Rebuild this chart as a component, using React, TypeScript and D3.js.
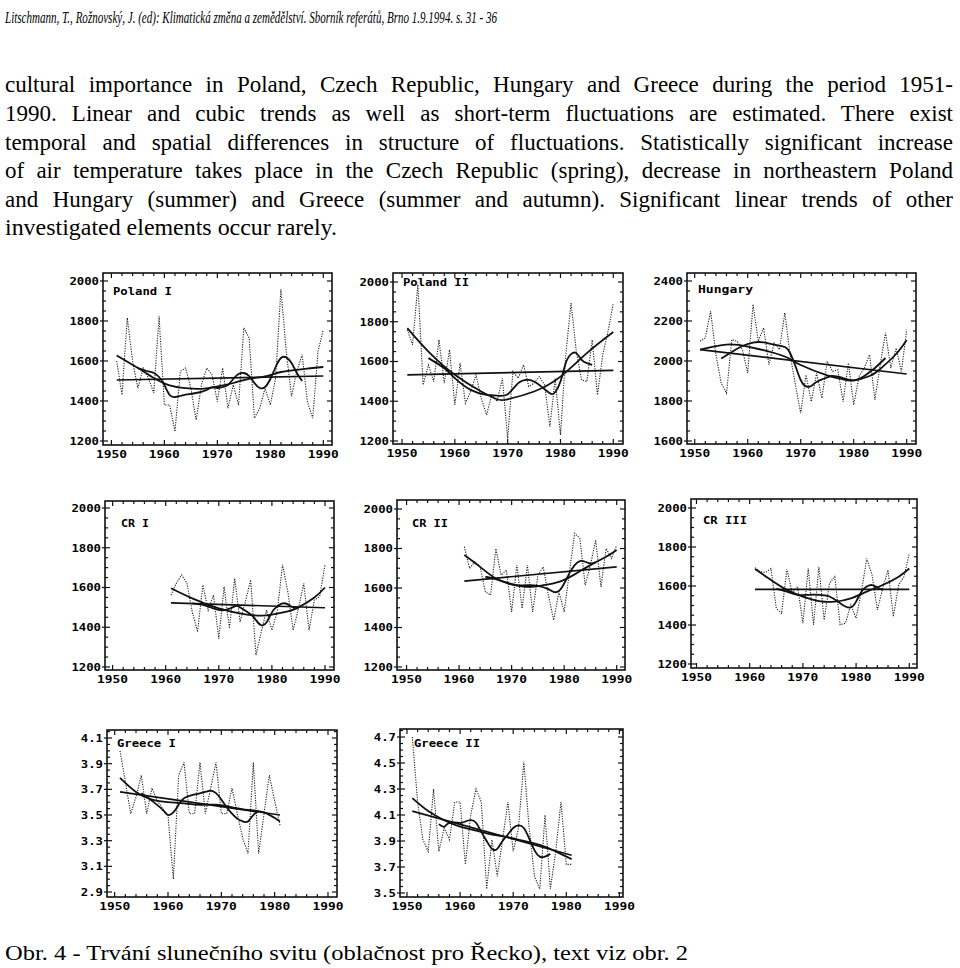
import React from 'react';
import * as d3 from 'd3';

// ---------------- text ----------------
const headerText =
  'Litschmann, T., Rožnovský, J. (ed): Klimatická změna a zemědělství. Sborník referátů, Brno 1.9.1994. s. 31 - 36';
const bodyLines = [
  'cultural importance in Poland, Czech Republic, Hungary and Greece during the period 1951-',
  '1990. Linear and cubic trends as well as short-term fluctuations are estimated. There exist',
  'temporal and spatial differences in structure of fluctuations. Statistically significant increase',
  'of air temperature takes place in the Czech Republic (spring), decrease in northeastern Poland',
  'and Hungary (summer) and Greece (summer and autumn). Significant linear trends of other',
  'investigated elements occur rarely.',
];
const captionText = 'Obr. 4 - Trvání slunečního svitu (oblačnost pro Řecko), text viz obr. 2';

// ---------------- tick labels ----------------
const xTickYears = [1950, 1960, 1970, 1980, 1990];
const ticksPoland = [1200, 1400, 1600, 1800, 2000];
const ticksHungary = [1600, 1800, 2000, 2200, 2400];
const ticksGreeceI = [2.9, 3.1, 3.3, 3.5, 3.7, 3.9, 4.1];
const ticksGreeceII = [3.5, 3.7, 3.9, 4.1, 4.3, 4.5, 4.7];

// ---------------- data: Poland I (1951-1990) ----------------
const polandIValues = [1600, 1431, 1816, 1600, 1464, 1565, 1515, 1440, 1824, 1380, 1380, 1247, 1548, 1565, 1464, 1305, 1481, 1565, 1531, 1397, 1565, 1364, 1481, 1380, 1766, 1715, 1314, 1364, 1464, 1380, 1515, 1958, 1648, 1423, 1548, 1632, 1397, 1314, 1648, 1757];
const polandILinear = [[1951, 1505], [1990, 1525]];
const polandICubic = [[1951, 1628], [1955, 1565], [1958, 1515], [1961, 1478], [1964, 1464], [1967, 1461], [1970, 1473], [1973, 1490], [1976, 1511], [1979, 1523], [1982, 1545], [1985, 1556], [1988, 1565], [1990, 1570]];
const polandISmooth = [[1955, 1565], [1957, 1548], [1958, 1540], [1959, 1520], [1960, 1480], [1961, 1430], [1962, 1420], [1963, 1425], [1964, 1432], [1966, 1440], [1968, 1455], [1969, 1468], [1970, 1465], [1971, 1470], [1972, 1480], [1973, 1510], [1974, 1535], [1975, 1540], [1976, 1525], [1977, 1490], [1978, 1465], [1979, 1470], [1980, 1510], [1981, 1570], [1982, 1615], [1983, 1618], [1984, 1590], [1985, 1540], [1986, 1500]];

// ---------------- data: Poland II (1951-1990) ----------------
const polandIIValues = [1760, 1684, 1987, 1482, 1583, 1499, 1709, 1491, 1659, 1381, 1592, 1390, 1449, 1533, 1415, 1331, 1432, 1398, 1516, 1213, 1550, 1516, 1583, 1474, 1491, 1524, 1482, 1272, 1516, 1230, 1634, 1894, 1650, 1507, 1499, 1709, 1432, 1634, 1751, 1894];
const polandIILinear = [[1951, 1533], [1990, 1555]];
const polandIICubic = [[1951, 1768], [1955, 1650], [1960, 1533], [1965, 1449], [1968, 1410], [1970, 1410], [1975, 1449], [1980, 1524], [1985, 1642], [1990, 1748]];
const polandIISmooth = [[1955, 1617], [1958, 1566], [1960, 1516], [1963, 1457], [1966, 1432], [1968, 1428], [1970, 1435], [1972, 1491], [1974, 1507], [1976, 1482], [1978, 1440], [1979, 1445], [1980, 1499], [1981, 1592], [1982, 1637], [1983, 1642], [1984, 1608], [1985, 1592], [1986, 1583]];

// ---------------- data: Hungary (1951-1990) ----------------
const hungaryValues = [2099, 2115, 2249, 2032, 1889, 1839, 2107, 2099, 2057, 1940, 2283, 2099, 2166, 1982, 2090, 2057, 2241, 2032, 1881, 1739, 1931, 1797, 1940, 1814, 1998, 1948, 1956, 1797, 1990, 1781, 1923, 1965, 2032, 1806, 1982, 2141, 1965, 2065, 1948, 2157];
const hungaryLinear = [[1951, 2057], [1990, 1935]];
const hungaryCubic = [[1951, 2057], [1956, 2082], [1960, 2072], [1965, 2040], [1968, 2010], [1970, 1980], [1975, 1928], [1978, 1908], [1980, 1903], [1983, 1925], [1985, 1960], [1988, 2035], [1990, 2105]];
const hungarySmooth = [[1955, 2012], [1957, 2045], [1959, 2075], [1961, 2092], [1962, 2095], [1963, 2093], [1965, 2082], [1967, 2070], [1968, 2040], [1969, 1975], [1970, 1905], [1971, 1873], [1972, 1875], [1973, 1895], [1975, 1918], [1976, 1925], [1977, 1922], [1978, 1915], [1980, 1903], [1982, 1925], [1984, 1965], [1986, 2015]];

// ---------------- data: CR I (1961-1990) ----------------
const crIValues = [1562, 1621, 1663, 1621, 1478, 1377, 1613, 1486, 1562, 1343, 1604, 1394, 1646, 1427, 1528, 1638, 1259, 1377, 1486, 1385, 1478, 1714, 1579, 1385, 1495, 1621, 1385, 1537, 1554, 1714];
const crILinear = [[1961, 1523], [1990, 1498]];
const crICubic = [[1961, 1596], [1965, 1545], [1970, 1495], [1975, 1465], [1978, 1458], [1980, 1463], [1983, 1480], [1985, 1500], [1988, 1550], [1990, 1600]];
const crISmooth = [[1965, 1520], [1967, 1512], [1969, 1495], [1971, 1486], [1973, 1505], [1974, 1500], [1976, 1465], [1977, 1436], [1978, 1410], [1979, 1425], [1980, 1475], [1981, 1505], [1982, 1520], [1983, 1515], [1984, 1500], [1985, 1495]];

// ---------------- data: CR II (1961-1990) ----------------
const crIIValues = [1809, 1699, 1733, 1707, 1581, 1564, 1800, 1665, 1691, 1479, 1716, 1496, 1716, 1479, 1665, 1707, 1564, 1437, 1581, 1479, 1682, 1877, 1851, 1614, 1716, 1843, 1606, 1800, 1750, 1817];
const crIILinear = [[1961, 1635], [1990, 1707]];
const crIICubic = [[1961, 1767], [1964, 1707], [1967, 1648], [1970, 1618], [1973, 1606], [1976, 1614], [1979, 1631], [1982, 1669], [1985, 1716], [1988, 1758], [1990, 1792]];
const crIISmooth = [[1965, 1657], [1967, 1645], [1969, 1628], [1971, 1614], [1973, 1614], [1975, 1611], [1977, 1594], [1978, 1580], [1979, 1585], [1980, 1623], [1981, 1674], [1982, 1716], [1983, 1736], [1984, 1733], [1985, 1724], [1986, 1730]];

// ---------------- data: CR III (1961-1990) ----------------
const crIIIValues = [1694, 1673, 1670, 1690, 1486, 1460, 1687, 1563, 1597, 1409, 1690, 1401, 1699, 1426, 1614, 1648, 1401, 1409, 1503, 1435, 1571, 1741, 1656, 1477, 1588, 1682, 1443, 1605, 1648, 1767];
const crIIILinear = [[1961, 1583], [1990, 1583]];
const crIIICubic = [[1961, 1687], [1964, 1631], [1967, 1580], [1970, 1546], [1973, 1523], [1976, 1520], [1979, 1537], [1982, 1571], [1985, 1605], [1988, 1648], [1990, 1690]];
const crIIISmooth = [[1965, 1585], [1967, 1571], [1969, 1554], [1971, 1555], [1973, 1555], [1975, 1546], [1977, 1512], [1978, 1495], [1979, 1490], [1980, 1520], [1981, 1571], [1982, 1597], [1983, 1605], [1984, 1592], [1985, 1580]];

// ---------------- data: Greece I (1951-1981) ----------------
const greeceIValues = [4.0, 3.76, 3.51, 3.64, 3.81, 3.51, 3.71, 3.61, 3.55, 3.5, 3.0, 3.81, 3.91, 3.51, 3.51, 3.91, 3.51, 3.71, 3.91, 3.51, 3.51, 3.71, 3.51, 3.32, 3.2, 3.91, 3.2, 3.51, 3.81, 3.61, 3.42];
const greeceILinear = [[1951, 3.68], [1981, 3.5]];
const greeceICubic = [[1951, 3.79], [1954, 3.68], [1957, 3.62], [1960, 3.6], [1963, 3.59], [1966, 3.58], [1969, 3.58], [1972, 3.56], [1975, 3.54], [1978, 3.52], [1981, 3.45]];
const greeceISmooth = [[1955, 3.67], [1957, 3.61], [1959, 3.54], [1960, 3.5], [1961, 3.52], [1962, 3.58], [1963, 3.63], [1965, 3.66], [1967, 3.68], [1968, 3.69], [1969, 3.67], [1970, 3.62], [1971, 3.56], [1972, 3.51], [1973, 3.47], [1974, 3.45], [1975, 3.45], [1976, 3.5], [1977, 3.53]];

// ---------------- data: Greece II (1951-1981) ----------------
const greeceIIValues = [4.7, 4.2, 3.91, 3.82, 4.3, 3.82, 4.0, 3.91, 4.2, 4.2, 3.72, 4.1, 4.3, 4.2, 3.53, 3.91, 3.63, 3.91, 4.2, 3.82, 4.0, 4.51, 4.0, 3.63, 3.53, 4.1, 3.53, 3.82, 4.2, 3.72, 3.72];
const greeceIILinear = [[1951, 4.13], [1981, 3.79]];
const greeceIICubic = [[1951, 4.23], [1954, 4.13], [1957, 4.06], [1960, 4.01], [1963, 3.98], [1966, 3.95], [1969, 3.93], [1972, 3.9], [1975, 3.87], [1978, 3.82], [1981, 3.76]];
const greeceIISmooth = [[1956, 4.03], [1957, 4.01], [1958, 4.04], [1960, 4.04], [1961, 4.05], [1962, 4.06], [1963, 4.04], [1964, 3.97], [1965, 3.9], [1966, 3.84], [1967, 3.84], [1968, 3.9], [1969, 3.95], [1970, 4.0], [1971, 4.02], [1972, 4.0], [1973, 3.92], [1974, 3.83], [1975, 3.78], [1976, 3.78], [1977, 3.8]];

// ---------------- layout ----------------
type Cfg = {
  title: string;
  frame: [number, number, number, number];
  xPx: [number, number];
  yRef: [number, number, number, number];
  yTicks: number[];
  yMinor: number;
  fmt: (v: number) => string;
  titlePos: [number, number, number];
  values: number[];
  start: number;
  linear: number[][];
  cubic: number[][];
  smooth: number[][];
};

const fmtInt = d3.format('d');
const fmt1 = d3.format('.1f');

const charts: Cfg[] = [
  { title: 'Poland I', frame: [103, 273, 332, 445], xPx: [116.7, 323.3], yRef: [2000, 281, 1200, 441], yTicks: ticksPoland, yMinor: 50, fmt: fmtInt, titlePos: [113, 295, 59], values: polandIValues, start: 1951, linear: polandILinear, cubic: polandICubic, smooth: polandISmooth },
  { title: 'Poland II', frame: [393, 273, 623, 444], xPx: [407.3, 613.3], yRef: [2000, 282, 1200, 441], yTicks: ticksPoland, yMinor: 50, fmt: fmtInt, titlePos: [403, 286, 66], values: polandIIValues, start: 1951, linear: polandIILinear, cubic: polandIICubic, smooth: polandIISmooth },
  { title: 'Hungary', frame: [687, 273, 916, 444], xPx: [700, 906.7], yRef: [2400, 281, 1600, 441], yTicks: ticksHungary, yMinor: 50, fmt: fmtInt, titlePos: [698, 293, 55], values: hungaryValues, start: 1951, linear: hungaryLinear, cubic: hungaryCubic, smooth: hungarySmooth },
  { title: 'CR I', frame: [105, 501, 334, 670], xPx: [117.9, 325], yRef: [2000, 508, 1200, 667], yTicks: ticksPoland, yMinor: 50, fmt: fmtInt, titlePos: [121, 527, 28], values: crIValues, start: 1961, linear: crILinear, cubic: crICubic, smooth: crISmooth },
  { title: 'CR II', frame: [397, 500, 625, 670], xPx: [411.8, 616.7], yRef: [2000, 509, 1200, 667], yTicks: ticksPoland, yMinor: 50, fmt: fmtInt, titlePos: [412, 527, 36], values: crIIValues, start: 1961, linear: crIILinear, cubic: crIICubic, smooth: crIISmooth },
  { title: 'CR III', frame: [691, 499, 917, 668], xPx: [701.8, 909.3], yRef: [2000, 508, 1200, 664], yTicks: ticksPoland, yMinor: 50, fmt: fmtInt, titlePos: [703, 524, 44], values: crIIIValues, start: 1961, linear: crIIILinear, cubic: crIIICubic, smooth: crIIISmooth },
  { title: 'Greece I', frame: [107, 730, 337, 897], xPx: [120, 328], yRef: [4.1, 738, 2.9, 892], yTicks: ticksGreeceI, yMinor: 0.05, fmt: fmt1, titlePos: [117, 747, 59], values: greeceIValues, start: 1951, linear: greeceILinear, cubic: greeceICubic, smooth: greeceISmooth },
  { title: 'Greece II', frame: [400, 729, 623, 897], xPx: [412.3, 619.4], yRef: [4.7, 737, 3.5, 893], yTicks: ticksGreeceII, yMinor: 0.05, fmt: fmt1, titlePos: [414, 747, 66], values: greeceIIValues, start: 1951, linear: greeceIILinear, cubic: greeceIICubic, smooth: greeceIISmooth },
];

const MONO = '"DejaVu Sans Mono", "Liberation Mono", monospace';
const SERIF = '"Liberation Serif", "Times New Roman", serif';
const INK = '#111';

function Chart({ c }: { c: Cfg }) {
  const [l, t, r, b] = c.frame;
  const x = d3.scaleLinear().domain([1951, 1990]).range(c.xPx);
  const y = d3.scaleLinear().domain([c.yRef[0], c.yRef[2]]).range([c.yRef[1], c.yRef[3]]);
  const line = d3.line<number[]>().x((d) => x(d[0])).y((d) => y(d[1]));
  const curve = d3.line<number[]>().x((d) => x(d[0])).y((d) => y(d[1])).curve(d3.curveNatural);
  const dotted = c.values.map((v, i) => [c.start + i, v]);

  const xMin = Math.ceil(x.invert(l + 1) / 2) * 2;
  const xMax = x.invert(r - 1);
  const xTicks: number[] = [];
  for (let yr = xMin; yr <= xMax; yr += 2) xTicks.push(yr);

  const yLo = y.invert(b - 1);
  const yHi = y.invert(t + 1);
  const yMinorTicks: number[] = [];
  for (let k = Math.ceil(yLo / c.yMinor - 1e-6); k * c.yMinor <= yHi + 1e-9; k++) yMinorTicks.push(k * c.yMinor);
  const isMajorY = (v: number) => c.yTicks.some((tv) => Math.abs(tv - v) < c.yMinor / 10);

  return (
    <g>
      <rect x={l} y={t} width={r - l} height={b - t} fill="none" stroke={INK} strokeWidth={1.6} />
      {xTicks.map((yr) => {
        const len = yr % 10 === 0 ? 5 : 3;
        const px = x(yr);
        return (
          <g key={'xt' + yr}>
            <line x1={px} x2={px} y1={b} y2={b - len} stroke={INK} strokeWidth={1.2} />
            <line x1={px} x2={px} y1={t} y2={t + len} stroke={INK} strokeWidth={1.2} />
          </g>
        );
      })}
      {yMinorTicks.map((v) => {
        const major = isMajorY(v);
        const len = major ? 5 : 3;
        const py = y(v);
        return (
          <g key={'yt' + v}>
            <line x1={major ? l - 3 : l} x2={l + len} y1={py} y2={py} stroke={INK} strokeWidth={1.2} />
            <line x1={r} x2={r - len} y1={py} y2={py} stroke={INK} strokeWidth={1.2} />
          </g>
        );
      })}
      {c.yTicks.map((v) => {
        const s = c.fmt(v);
        return (
          <text key={'yl' + v} x={l - 4} y={y(v)} dy="0.36em" textAnchor="end" fontFamily={MONO} fontWeight="bold" fontSize={11} textLength={s.length * 7.4} lengthAdjust="spacingAndGlyphs" fill="#000">
            {s}
          </text>
        );
      })}
      {xTickYears.map((yr) => (
        <text key={'xl' + yr} x={x(yr)} y={b + 12.5} textAnchor="middle" fontFamily={MONO} fontWeight="bold" fontSize={11} textLength={31} lengthAdjust="spacingAndGlyphs" fill="#000">
          {yr}
        </text>
      ))}
      <text x={c.titlePos[0]} y={c.titlePos[1]} fontFamily={MONO} fontWeight="bold" fontSize={11} textLength={c.titlePos[2]} lengthAdjust="spacingAndGlyphs" fill="#000">
        {c.title}
      </text>
      <path d={line(dotted) || ''} fill="none" stroke="#222" strokeWidth={1.1} strokeDasharray="1.2 1.3" />
      <path d={line(c.linear) || ''} fill="none" stroke={INK} strokeWidth={1.7} />
      <path d={curve(c.cubic) || ''} fill="none" stroke={INK} strokeWidth={1.8} />
      <path d={curve(c.smooth) || ''} fill="none" stroke={INK} strokeWidth={1.8} />
    </g>
  );
}

let measureCtx: CanvasRenderingContext2D | null = null;
function measure(text: string, font: string): number {
  if (!measureCtx) measureCtx = document.createElement('canvas').getContext('2d');
  if (!measureCtx) return text.length * 10;
  measureCtx.font = font;
  return measureCtx.measureText(text).width;
}

function TextLine({ text, x, y, width, size, justify }: { text: string; x: number; y: number; width: number; size: number; justify: boolean }) {
  let ws = 0;
  if (justify) {
    const natural = measure(text, `${size}px "Liberation Serif"`);
    const gaps = (text.match(/ /g) || []).length;
    if (gaps > 0 && natural < width) ws = (width - natural) / gaps;
  }
  return (
    <text x={x} y={y} fontFamily={SERIF} fontSize={size} textLength={width} lengthAdjust="spacingAndGlyphs" fill="#000" style={{ wordSpacing: `${ws}px` }}>
      {text}
    </text>
  );
}

export default function App() {
  const bodyBase = [92, 121, 150, 178, 207, 235];
  const bodyWidths = [948, 948, 948, 948, 948, 332];
  return (
    <svg width={960} height={968} viewBox="0 0 960 968" style={{ position: 'absolute', left: 0, top: 0, background: '#fff', display: 'block' }}>
      <rect x={0} y={0} width={960} height={968} fill="#fff" />
      <text x={5} y={23} fontFamily={SERIF} fontStyle="italic" fontSize={17} textLength={492} lengthAdjust="spacingAndGlyphs" fill="#000">
        {headerText}
      </text>
      {bodyLines.map((s, i) => (
        <TextLine key={i} text={s} x={5} y={bodyBase[i]} width={bodyWidths[i]} size={23} justify={i < bodyLines.length - 1} />
      ))}
      {charts.map((c) => (
        <Chart key={c.title} c={c} />
      ))}
      <TextLine text={captionText} x={5} y={960} width={683} size={21} justify={false} />
    </svg>
  );
}
